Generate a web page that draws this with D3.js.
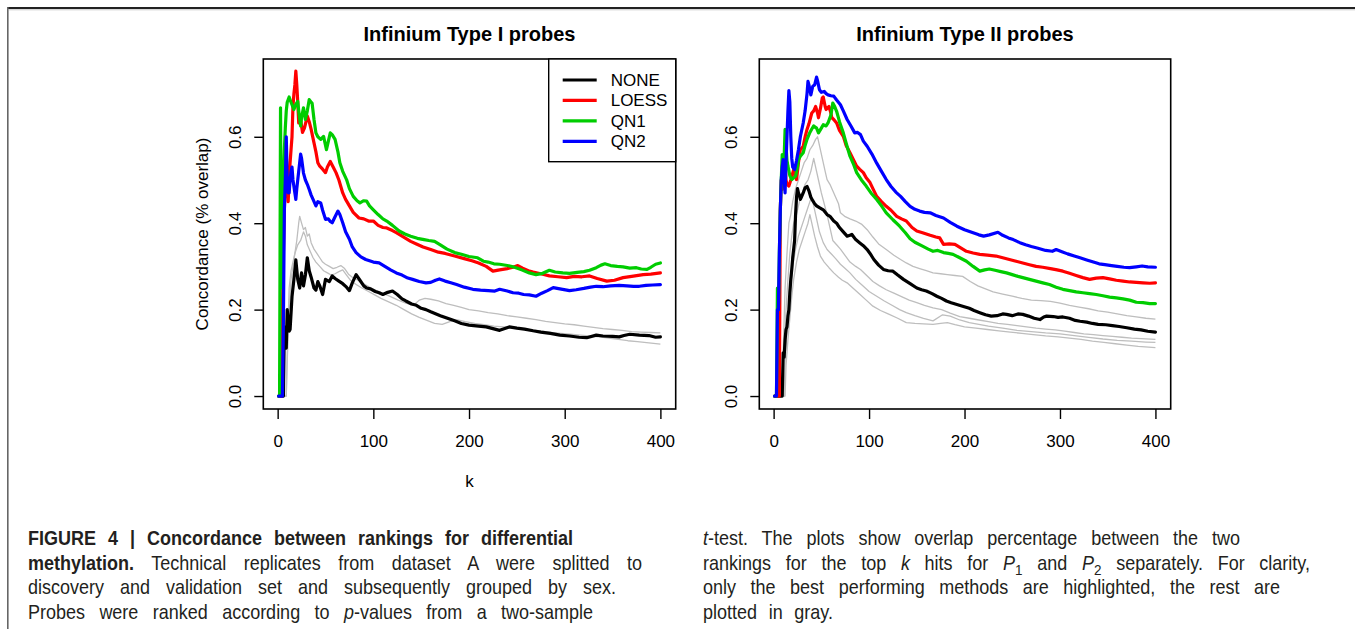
<!DOCTYPE html>
<html><head><meta charset="utf-8">
<script src="https://cdn.jsdelivr.net/npm/d3@7"></script>
<style>
html,body{margin:0;padding:0;background:#fff;}
svg{display:block;}
</style></head>
<body>
<svg id="c" width="1355" height="629"></svg>
<script>
// ---------------- DATA ----------------
const methods = ["NONE", "LOESS", "QN1", "QN2"];
const methodColors = ["#000000", "#ff0000", "#00cd00", "#0000ff"];
const panelTitles = ["Infinium Type I probes", "Infinium Type II probes"];
const xTicks = [0, 100, 200, 300, 400];
const yTicks = [0.0, 0.2, 0.4, 0.6];
const xLabel = "k";
const yLabel = "Concordance (% overlap)";

// Left panel (Type I) : [k, concordance]
const left_NONE = [[1,0],[6,0],[7,0.16],[8,0.125],[9,0.111],[10,0.2],[12,0.15],[13,0.154],[15,0.23],[17,0.27],[19,0.315],[21,0.27],[23,0.25],[25,0.285],[27,0.255],[29,0.28],[31,0.32],[33,0.29],[35,0.275],[38,0.25],[40,0.245],[42,0.265],[44,0.255],[47,0.235],[50,0.27],[54,0.265],[57,0.278],[60,0.272],[64,0.266],[68,0.26],[72,0.252],[75,0.244],[78,0.262],[82,0.281],[86,0.268],[90,0.255],[93,0.25],[97,0.248],[102,0.242],[106,0.239],[110,0.235],[115,0.24],[120,0.243],[125,0.235],[130,0.225],[134,0.22],[140,0.213],[145,0.21],[150,0.203],[155,0.2],[160,0.195],[170,0.186],[176,0.181],[185,0.174],[192,0.168],[200,0.164],[210,0.162],[218,0.16],[225,0.156],[232,0.152],[242,0.16],[250,0.157],[258,0.155],[267,0.151],[275,0.148],[285,0.145],[295,0.141],[305,0.139],[315,0.136],[323,0.135],[333,0.141],[340,0.139],[350,0.138],[357,0.137],[362,0.14],[368,0.143],[378,0.141],[388,0.14],[395,0.136],[400,0.137]];
const left_LOESS = [[1,0],[4,0],[5,0.2],[6,0.33],[7,0.43],[8,0.5],[9,0.56],[10,0.5],[11,0.45],[12,0.5],[13,0.54],[14,0.57],[15,0.6],[16,0.67],[17,0.7],[18,0.72],[19,0.752],[20,0.72],[21,0.68],[22,0.632],[24,0.64],[26,0.61],[28,0.62],[31,0.648],[33,0.635],[35,0.617],[38,0.586],[40,0.565],[42,0.54],[44,0.532],[47,0.525],[50,0.517],[52,0.53],[55,0.543],[58,0.53],[61,0.517],[64,0.5],[68,0.47],[71,0.455],[75,0.44],[79,0.425],[85,0.412],[90,0.41],[95,0.405],[100,0.405],[105,0.395],[110,0.39],[114,0.389],[120,0.383],[124,0.378],[130,0.37],[139,0.358],[145,0.352],[152,0.345],[160,0.339],[168,0.333],[175,0.33],[185,0.324],[195,0.318],[203,0.313],[210,0.308],[218,0.3],[225,0.289],[232,0.292],[240,0.295],[246,0.298],[251,0.302],[256,0.296],[262,0.29],[267,0.287],[275,0.283],[284,0.278],[293,0.276],[302,0.274],[310,0.277],[318,0.276],[326,0.278],[334,0.272],[344,0.266],[352,0.268],[361,0.274],[370,0.277],[382,0.281],[390,0.282],[400,0.285]];
const left_QN1 = [[1,0],[2,0],[3,0.667],[4,0.25],[5,0.4],[6,0.5],[7,0.57],[8,0.62],[9,0.66],[10,0.68],[12,0.692],[14,0.68],[17,0.663],[19,0.675],[21,0.682],[22,0.66],[24,0.625],[25,0.645],[27,0.667],[29,0.64],[31,0.66],[33,0.686],[35,0.68],[36,0.678],[38,0.64],[40,0.609],[42,0.6],[45,0.594],[48,0.601],[51,0.57],[53,0.59],[55,0.609],[57,0.605],[60,0.594],[63,0.565],[65,0.54],[68,0.52],[72,0.501],[75,0.48],[79,0.462],[83,0.452],[86,0.447],[90,0.452],[93,0.451],[96,0.44],[100,0.431],[105,0.42],[110,0.41],[114,0.405],[120,0.395],[127,0.382],[133,0.375],[139,0.37],[146,0.365],[153,0.362],[158,0.36],[164,0.358],[170,0.35],[177,0.34],[185,0.332],[192,0.328],[200,0.323],[209,0.32],[215,0.312],[220,0.31],[226,0.306],[232,0.305],[240,0.302],[246,0.299],[255,0.292],[263,0.285],[270,0.281],[277,0.284],[284,0.291],[290,0.287],[298,0.285],[305,0.284],[313,0.286],[320,0.288],[326,0.291],[333,0.297],[338,0.303],[342,0.306],[348,0.302],[355,0.3],[361,0.299],[368,0.296],[375,0.297],[380,0.294],[386,0.293],[390,0.298],[395,0.305],[400,0.308]];
const left_QN2 = [[1,0],[5,0],[6,0.17],[7,0.43],[8,0.5],[9,0.6],[10,0.5],[11,0.47],[12,0.47],[13,0.5],[14,0.52],[15,0.53],[16,0.5],[18,0.47],[19,0.455],[20,0.48],[22,0.52],[24,0.56],[25,0.55],[27,0.516],[29,0.5],[31,0.49],[33,0.478],[35,0.465],[37,0.455],[40,0.44],[42,0.45],[45,0.447],[47,0.43],[50,0.409],[53,0.41],[55,0.404],[57,0.401],[60,0.415],[63,0.428],[65,0.42],[68,0.401],[71,0.38],[75,0.363],[78,0.345],[82,0.332],[87,0.322],[92,0.316],[96,0.313],[100,0.31],[106,0.308],[112,0.3],[118,0.292],[124,0.285],[130,0.28],[136,0.273],[141,0.27],[148,0.265],[155,0.262],[160,0.263],[165,0.268],[169,0.271],[175,0.266],[181,0.262],[187,0.258],[195,0.252],[204,0.247],[212,0.245],[220,0.244],[227,0.243],[232,0.247],[240,0.243],[246,0.239],[252,0.238],[257,0.235],[263,0.234],[270,0.231],[276,0.238],[282,0.244],[288,0.251],[295,0.248],[305,0.244],[312,0.246],[320,0.249],[327,0.252],[333,0.254],[340,0.253],[348,0.255],[357,0.256],[365,0.255],[372,0.254],[378,0.254],[385,0.256],[392,0.257],[400,0.258]];
const left_gray1 = [[1,0],[9,0],[10,0.1],[11,0.18],[12,0.25],[14,0.29],[16,0.31],[18,0.33],[20,0.36],[22,0.4],[23,0.416],[25,0.4],[27,0.385],[29,0.39],[31,0.37],[33,0.375],[35,0.355],[38,0.34],[41,0.33],[44,0.32],[47,0.31],[50,0.305],[54,0.3],[58,0.295],[62,0.298],[66,0.302],[70,0.295],[74,0.282],[78,0.275],[84,0.268],[90,0.26],[96,0.252],[102,0.245],[110,0.238],[118,0.23],[126,0.222],[134,0.215],[142,0.21],[148,0.222],[154,0.226],[160,0.224],[168,0.22],[176,0.214],[184,0.21],[192,0.205],[200,0.2],[210,0.197],[220,0.193],[230,0.19],[240,0.186],[250,0.183],[260,0.18],[270,0.177],[280,0.173],[290,0.17],[300,0.167],[310,0.165],[320,0.162],[330,0.159],[340,0.156],[350,0.154],[360,0.152],[370,0.149],[380,0.148],[390,0.147],[400,0.146]];
const left_gray2 = [[1,0],[9,0],[10,0.08],[12,0.2],[14,0.27],[16,0.3],[18,0.33],[21,0.35],[24,0.36],[27,0.38],[29,0.37],[31,0.35],[34,0.335],[37,0.32],[40,0.31],[44,0.3],[48,0.29],[52,0.285],[56,0.28],[60,0.283],[64,0.288],[68,0.292],[72,0.28],[76,0.268],[82,0.258],[88,0.25],[94,0.243],[100,0.236],[108,0.226],[116,0.218],[124,0.21],[132,0.2],[140,0.19],[148,0.182],[156,0.175],[164,0.168],[172,0.166],[180,0.172],[188,0.176],[196,0.172],[206,0.168],[216,0.165],[226,0.162],[236,0.16],[246,0.158],[256,0.155],[266,0.152],[276,0.15],[286,0.147],[296,0.145],[306,0.143],[316,0.141],[326,0.139],[336,0.137],[346,0.134],[356,0.131],[366,0.128],[376,0.126],[388,0.123],[400,0.12]];

// Right panel (Type II)
const right_NONE = [[1,0],[9,0],[10,0.1],[11,0.09],[12,0.13],[13,0.154],[14,0.16],[15,0.185],[16,0.2],[17,0.24],[18,0.27],[19,0.293],[20,0.32],[21,0.34],[22,0.36],[23,0.42],[24,0.46],[25,0.48],[26,0.47],[27,0.465],[28,0.455],[29,0.46],[31,0.47],[33,0.482],[35,0.485],[37,0.475],[39,0.46],[41,0.452],[43,0.445],[45,0.44],[48,0.436],[52,0.431],[56,0.42],[59,0.416],[63,0.405],[66,0.4],[69,0.39],[73,0.38],[77,0.37],[80,0.372],[82,0.374],[86,0.362],[90,0.355],[94,0.348],[98,0.339],[101,0.33],[105,0.316],[110,0.303],[115,0.293],[120,0.29],[125,0.289],[130,0.28],[136,0.27],[143,0.26],[150,0.25],[155,0.246],[160,0.243],[166,0.237],[171,0.231],[176,0.226],[181,0.22],[186,0.216],[192,0.212],[198,0.208],[205,0.203],[210,0.198],[216,0.193],[222,0.188],[228,0.185],[234,0.186],[240,0.19],[244,0.189],[250,0.186],[256,0.19],[261,0.189],[267,0.185],[273,0.18],[279,0.177],[283,0.183],[286,0.185],[293,0.184],[298,0.182],[303,0.183],[310,0.18],[316,0.175],[321,0.173],[328,0.171],[334,0.168],[340,0.166],[348,0.165],[355,0.163],[362,0.161],[370,0.158],[378,0.155],[385,0.153],[392,0.15],[400,0.148]];
const right_LOESS = [[1,0],[6,0],[7,0.43],[8,0.5],[9,0.478],[10,0.5],[11,0.52],[12,0.54],[13,0.5],[14,0.49],[16,0.486],[18,0.5],[21,0.524],[23,0.51],[24,0.501],[26,0.54],[28,0.57],[30,0.575],[31,0.578],[33,0.6],[35,0.617],[37,0.63],[40,0.655],[42,0.66],[44,0.67],[46,0.655],[47,0.644],[49,0.665],[51,0.69],[52,0.692],[54,0.67],[55,0.663],[57,0.668],[58,0.67],[60,0.655],[61,0.644],[63,0.64],[66,0.632],[69,0.615],[73,0.601],[76,0.58],[80,0.563],[84,0.545],[87,0.532],[90,0.525],[94,0.517],[97,0.505],[101,0.494],[104,0.48],[108,0.462],[113,0.45],[118,0.439],[123,0.43],[129,0.416],[134,0.41],[139,0.405],[145,0.39],[150,0.382],[156,0.378],[164,0.372],[170,0.368],[174,0.366],[178,0.351],[184,0.352],[190,0.351],[196,0.343],[202,0.335],[209,0.331],[216,0.328],[224,0.326],[233,0.324],[240,0.32],[247,0.316],[254,0.312],[261,0.308],[268,0.304],[275,0.3],[282,0.298],[290,0.295],[297,0.292],[303,0.289],[310,0.284],[317,0.279],[324,0.274],[331,0.27],[338,0.273],[345,0.274],[352,0.271],[359,0.268],[366,0.266],[373,0.264],[380,0.263],[387,0.262],[394,0.261],[400,0.262]];
const right_QN1 = [[1,0],[3,0],[4,0.25],[5,0.2],[6,0.33],[7,0.43],[8,0.5],[9,0.559],[10,0.532],[11,0.55],[12,0.617],[13,0.58],[14,0.545],[15,0.532],[17,0.51],[19,0.501],[21,0.505],[23,0.509],[25,0.53],[26,0.547],[28,0.555],[31,0.563],[33,0.58],[35,0.594],[38,0.61],[40,0.618],[42,0.625],[45,0.62],[47,0.609],[50,0.62],[52,0.628],[55,0.625],[57,0.632],[60,0.65],[62,0.678],[64,0.67],[66,0.659],[69,0.635],[73,0.609],[76,0.585],[80,0.555],[84,0.535],[87,0.517],[92,0.5],[97,0.486],[102,0.47],[108,0.455],[113,0.44],[118,0.424],[125,0.408],[132,0.393],[138,0.378],[143,0.364],[148,0.356],[155,0.348],[162,0.34],[167,0.335],[172,0.337],[178,0.332],[183,0.33],[188,0.328],[195,0.32],[202,0.312],[209,0.3],[216,0.289],[221,0.292],[226,0.294],[232,0.291],[238,0.288],[244,0.285],[250,0.281],[256,0.277],[261,0.274],[268,0.27],[275,0.266],[282,0.262],[289,0.258],[296,0.252],[303,0.247],[310,0.244],[317,0.241],[324,0.239],[331,0.237],[338,0.235],[345,0.232],[352,0.229],[359,0.227],[366,0.225],[373,0.222],[380,0.217],[387,0.216],[394,0.214],[400,0.214]];
const right_QN2 = [[1,0],[3,0],[4,0.2],[5,0.2],[6,0.33],[7,0.43],[8,0.5],[9,0.53],[10,0.547],[11,0.5],[12,0.47],[13,0.54],[14,0.6],[15,0.66],[16,0.707],[17,0.68],[18,0.6],[19,0.55],[20,0.53],[22,0.524],[24,0.545],[26,0.57],[28,0.6],[31,0.632],[33,0.66],[35,0.7],[36,0.728],[37,0.72],[39,0.697],[41,0.717],[43,0.72],[45,0.738],[46,0.73],[48,0.709],[50,0.703],[53,0.705],[55,0.7],[57,0.697],[60,0.695],[63,0.694],[66,0.685],[70,0.674],[73,0.66],[77,0.64],[81,0.625],[85,0.609],[88,0.61],[91,0.605],[94,0.59],[98,0.578],[103,0.56],[108,0.539],[113,0.52],[118,0.501],[123,0.485],[128,0.472],[133,0.462],[138,0.45],[143,0.439],[148,0.432],[153,0.428],[158,0.425],[164,0.424],[170,0.418],[178,0.412],[185,0.402],[192,0.393],[200,0.385],[209,0.378],[215,0.373],[220,0.37],[226,0.373],[235,0.379],[240,0.372],[246,0.366],[251,0.362],[258,0.355],[264,0.35],[270,0.346],[277,0.342],[285,0.337],[292,0.335],[296,0.339],[302,0.334],[308,0.329],[315,0.324],[321,0.32],[328,0.315],[335,0.31],[341,0.306],[347,0.304],[354,0.302],[360,0.3],[367,0.298],[373,0.297],[380,0.299],[386,0.301],[392,0.299],[400,0.298]];
const right_gray1 = [[1,0],[9,0],[10,0.1],[12,0.25],[14,0.33],[16,0.4],[18,0.42],[20,0.45],[23,0.48],[26,0.5],[29,0.52],[32,0.54],[35,0.55],[38,0.57],[41,0.58],[44,0.594],[46,0.6],[48,0.58],[51,0.55],[54,0.52],[56,0.501],[59,0.49],[62,0.475],[65,0.46],[68,0.445],[70,0.424],[75,0.415],[80,0.41],[86,0.405],[92,0.398],[98,0.385],[104,0.368],[110,0.352],[118,0.339],[126,0.326],[133,0.316],[139,0.308],[146,0.3],[153,0.295],[160,0.29],[167,0.285],[175,0.283],[182,0.281],[190,0.279],[198,0.277],[206,0.265],[214,0.255],[222,0.248],[230,0.241],[240,0.236],[250,0.231],[260,0.226],[270,0.222],[280,0.221],[290,0.219],[300,0.215],[310,0.21],[320,0.206],[330,0.202],[340,0.197],[350,0.194],[360,0.19],[370,0.186],[380,0.183],[390,0.18],[400,0.178]];
const right_gray2 = [[1,0],[10,0],[11,0.09],[13,0.2],[15,0.27],[17,0.33],[19,0.37],[21,0.4],[24,0.42],[27,0.45],[30,0.47],[33,0.49],[36,0.5],[39,0.52],[42,0.55],[44,0.53],[47,0.5],[50,0.47],[53,0.445],[56,0.42],[59,0.39],[62,0.36],[66,0.35],[70,0.34],[75,0.325],[80,0.31],[86,0.3],[91,0.293],[97,0.28],[104,0.265],[111,0.255],[118,0.246],[126,0.238],[134,0.23],[142,0.222],[150,0.216],[158,0.21],[167,0.204],[176,0.2],[185,0.192],[195,0.184],[205,0.18],[215,0.176],[225,0.172],[235,0.168],[245,0.166],[255,0.163],[265,0.16],[275,0.157],[285,0.155],[295,0.153],[305,0.15],[315,0.147],[325,0.144],[335,0.142],[345,0.14],[355,0.138],[365,0.136],[375,0.134],[385,0.133],[400,0.131]];
const right_gray3 = [[1,0],[11,0],[12,0.08],[14,0.15],[16,0.2],[18,0.25],[20,0.3],[23,0.34],[26,0.37],[29,0.39],[32,0.41],[35,0.43],[38,0.45],[40,0.46],[42,0.44],[45,0.41],[48,0.38],[52,0.355],[56,0.339],[60,0.33],[65,0.318],[70,0.305],[75,0.295],[80,0.285],[86,0.27],[92,0.258],[100,0.242],[108,0.231],[116,0.22],[124,0.21],[132,0.2],[139,0.193],[148,0.186],[157,0.18],[167,0.174],[177,0.188],[185,0.185],[195,0.176],[205,0.17],[215,0.166],[225,0.162],[240,0.157],[255,0.152],[270,0.149],[285,0.146],[300,0.144],[315,0.14],[330,0.136],[345,0.132],[360,0.129],[375,0.127],[390,0.125],[400,0.124]];
const right_gray4 = [[1,0],[12,0],[13,0.07],[15,0.13],[17,0.18],[19,0.23],[21,0.27],[24,0.31],[27,0.34],[30,0.36],[33,0.38],[36,0.4],[38,0.42],[40,0.4],[43,0.37],[46,0.345],[49,0.324],[53,0.31],[58,0.297],[63,0.285],[68,0.275],[72,0.268],[77,0.262],[83,0.25],[90,0.236],[97,0.222],[104,0.208],[112,0.198],[120,0.19],[130,0.18],[139,0.17],[148,0.168],[157,0.167],[167,0.166],[175,0.168],[182,0.17],[190,0.165],[200,0.16],[212,0.157],[224,0.154],[236,0.151],[248,0.148],[260,0.145],[272,0.142],[285,0.139],[298,0.137],[310,0.134],[322,0.131],[334,0.127],[346,0.124],[358,0.121],[370,0.118],[382,0.115],[400,0.112]];

// Caption lines: segments [text, style]  style: b=bold, i=italic, s=subscript
const captionLeft = [
  [["FIGURE 4 | Concordance between rankings for differential","b"]],
  [["methylation.","b"],[" Technical replicates from dataset A were splitted to",""]],
  [["discovery and validation set and subsequently grouped by sex.",""]],
  [["Probes were ranked according to ",""],["p","i"],["-values from a two-sample",""]]
];
const captionRight = [
  [["t","i"],["-test. The plots show overlap percentage between the two",""]],
  [["rankings for the top ",""],["k","i"],[" hits for ",""],["P","i"],["1","s"],[" and ",""],["P","i"],["2","s"],[" separately. For clarity,",""]],
  [["only the best performing methods are highlighted, the rest are",""]],
  [["plotted in gray.",""]]
];

// ---------------- DRAW ----------------
const svg = d3.select("#c");
const FONT = "'Liberation Sans', Arial, Helvetica, sans-serif";

// page frame
svg.append("line").attr("x1",7).attr("x2",1355).attr("y1",8).attr("y2",8).attr("stroke","#222").attr("stroke-width",2);
svg.append("line").attr("x1",9).attr("x2",1355).attr("y1",9.8).attr("y2",9.8).attr("stroke","#c8c8c8").attr("stroke-width",1);
svg.append("line").attr("x1",7.8).attr("x2",7.8).attr("y1",7).attr("y2",629).attr("stroke","#666").attr("stroke-width",1.6);

const panels = [
  {x0:263.3, x1:675.7, title:panelTitles[0], series:[left_NONE,left_LOESS,left_QN1,left_QN2], grays:[left_gray1,left_gray2], legend:true, xlab:true},
  {x0:759.3, x1:1170.7, title:panelTitles[1], series:[right_NONE,right_LOESS,right_QN1,right_QN2], grays:[right_gray1,right_gray2,right_gray3,right_gray4], legend:false, xlab:false}
];
const Y0 = 59, Y1 = 409;

panels.forEach(p => {
  const x = d3.scaleLinear().domain([-15, 416]).range([p.x0, p.x1]);
  const y = d3.scaleLinear().domain([-0.03, 0.78]).range([Y1, Y0]);
  const g = svg.append("g");
  const line = d3.line().x(d => x(d[0])).y(d => y(d[1]));

  const cid = "clip" + Math.round(p.x0);
  svg.append("clipPath").attr("id", cid).append("rect")
    .attr("x", p.x0).attr("y", Y0).attr("width", p.x1 - p.x0).attr("height", Y1 - Y0);
  const lines = g.append("g").attr("clip-path", `url(#${cid})`);

  p.grays.forEach(s => {
    lines.append("path").attr("d", line(s)).attr("fill","none")
      .attr("stroke","#bebebe").attr("stroke-width",1.3).attr("stroke-linejoin","round");
  });
  p.series.forEach((s, i) => {
    lines.append("path").attr("d", line(s)).attr("fill","none")
      .attr("stroke", methodColors[i]).attr("stroke-width",3.2)
      .attr("stroke-linejoin","round").attr("stroke-linecap","round");
  });

  const xa = g.append("g").attr("transform", `translate(0,${Y1})`)
    .call(d3.axisBottom(x).tickValues(xTicks).tickSize(10).tickPadding(25).tickFormat(d3.format("d")));
  xa.select(".domain").remove();
  xa.selectAll("line").attr("stroke","#000").attr("stroke-width",1.4);
  xa.selectAll("text").attr("dy", null).attr("y", 37.5).attr("font-family", FONT).attr("font-size", 17).attr("fill","#000");

  const ya = g.append("g").attr("transform", `translate(${p.x0},0)`)
    .call(d3.axisLeft(y).tickValues(yTicks).tickSize(9).tickFormat(d3.format(".1f")));
  ya.select(".domain").remove();
  ya.selectAll("line").attr("stroke","#000").attr("stroke-width",1.4);
  ya.selectAll("text").attr("x", null).attr("dy", null)
    .attr("transform", "translate(-22.5,0) rotate(-90)")
    .attr("text-anchor","middle").attr("font-family", FONT).attr("font-size", 17).attr("fill","#000");

  g.append("rect").attr("x", p.x0).attr("y", Y0).attr("width", p.x1 - p.x0).attr("height", Y1 - Y0)
    .attr("fill","none").attr("stroke","#000").attr("stroke-width",1.6);

  g.append("text").attr("x", (p.x0 + p.x1)/2).attr("y", 41).attr("text-anchor","middle")
    .attr("font-family", FONT).attr("font-weight","bold").attr("font-size", 20).text(p.title);

  if (p.xlab) {
    g.append("text").attr("x", (p.x0 + p.x1)/2).attr("y", 487).attr("text-anchor","middle")
      .attr("font-family", FONT).attr("font-size", 17).text(xLabel);
    g.append("text").attr("transform", `translate(208,${(Y0+Y1)/2}) rotate(-90)`).attr("text-anchor","middle")
      .attr("font-family", FONT).attr("font-size", 17).text(yLabel);
  }

  if (p.legend) {
    const lx0 = 548.7, ly0 = Y0, lw = p.x1 - lx0, lh = 102.7;
    const lg = g.append("g");
    lg.append("rect").attr("x", lx0).attr("y", ly0).attr("width", lw).attr("height", lh)
      .attr("fill","#fff").attr("stroke","#000").attr("stroke-width",1.4);
    methods.forEach((m, i) => {
      const cy = 80 + i * 20.45;
      lg.append("line").attr("x1", 562.7).attr("x2", 596.7).attr("y1", cy).attr("y2", cy)
        .attr("stroke", methodColors[i]).attr("stroke-width", 3.2);
      lg.append("text").attr("x", 610.7).attr("y", cy + 6).attr("font-family", FONT).attr("font-size", 17).text(m);
    });
  }
});

// caption (condensed look via horizontal scaling, justified via word-spacing)
const CAPF = "'Liberation Sans', Arial, sans-serif";
const SX = 0.9;
function capLine(x, yb, target, segs) {
  const gg = svg.append("g").attr("transform", `translate(${x},${yb}) scale(${SX},1)`);
  const t = gg.append("text").attr("x", 0).attr("y", 0).attr("font-family", CAPF)
    .attr("font-size", 20).attr("fill", "#231f20");
  let sub = false;
  segs.forEach(([txt, st]) => {
    const ts = t.append("tspan").text(txt);
    if (st === "b") ts.attr("font-weight","bold");
    if (st === "i") ts.attr("font-style","italic");
    if (st === "s") { ts.attr("font-size", 15).attr("dy", 5); sub = true; }
    else if (sub) { ts.attr("dy", -5); sub = false; }
  });
  const nat = t.node().getComputedTextLength();
  const full = segs.map(s => s[0]).join("");
  const spaces = (full.match(/ /g) || []).length;
  const w = (target - x) / SX;
  if (nat < w && spaces > 0) t.attr("word-spacing", (w - nat) / spaces);
  else if (nat > w) t.attr("textLength", w).attr("lengthAdjust", "spacingAndGlyphs");
}
const capY = [545, 569.5, 594, 619];
const leftEnds = [573, 642, 616, 593];
const rightEnds = [1240, 1310, 1280, 833];
captionLeft.forEach((l, i) => capLine(28, capY[i], leftEnds[i], l));
captionRight.forEach((l, i) => capLine(703, capY[i], rightEnds[i], l));
</script>
</body></html>
